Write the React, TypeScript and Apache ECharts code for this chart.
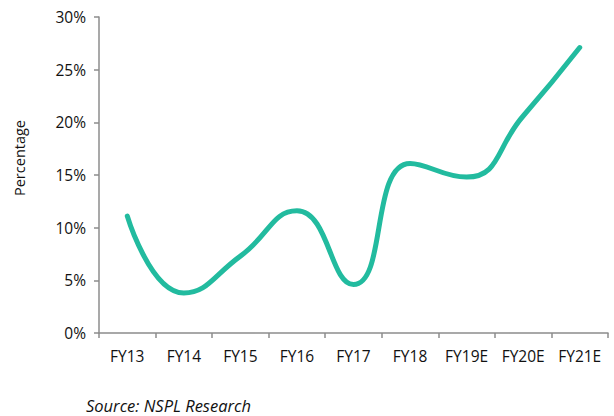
import React, { useEffect, useRef } from "react";
import * as echarts from "echarts";

const categories = ["FY13", "FY14", "FY15", "FY16", "FY17", "FY18", "FY19E", "FY20E", "FY21E"];
const values = [11.1, 3.8, 7.3, 11.6, 4.6, 16.1, 14.8, 20.6, 27.1];
const yTicks = { min: 0, max: 30, interval: 5 };

export default function App() {
  const ref = useRef<HTMLDivElement>(null);
  useEffect(() => {
    if (!ref.current) return;
    const chart = echarts.init(ref.current, undefined, { renderer: "svg" });
    const font = "'Open Sans', 'Liberation Sans', sans-serif";
    chart.setOption({
      animation: false,
      backgroundColor: "#ffffff",
      grid: { left: 99, right: 6, top: 17, bottom: 83 },
      xAxis: {
        type: "category",
        data: categories,
        boundaryGap: true,
        axisLine: { lineStyle: { color: "#8c8c8c", width: 1.5 } },
        axisTick: { show: true, length: 5, lineStyle: { color: "#8c8c8c", width: 1.5 } },
        axisLabel: { color: "#111", fontSize: 15.5, fontFamily: font, margin: 15, interval: 0 },
      },
      yAxis: {
        type: "value",
        min: yTicks.min,
        max: yTicks.max,
        interval: yTicks.interval,
        axisLine: { show: true, lineStyle: { color: "#8c8c8c", width: 1.5 } },
        axisTick: { show: true, length: 5, lineStyle: { color: "#8c8c8c", width: 1.5 } },
        splitLine: { show: false },
        axisLabel: { color: "#111", fontSize: 15.5, fontFamily: font, margin: 13, formatter: "{value}%" },
      },
      series: [
        {
          type: "line",
          data: values,
          smooth: 0.5,
          symbol: "none",
          lineStyle: { color: "#22bb9f", width: 5, cap: "round" },
        },
      ],
      graphic: [
        {
          type: "text",
          x: 19,
          y: 158,
          rotation: Math.PI / 2,
          style: {
            text: "Percentage",
            fill: "#111",
            fontSize: 14.5,
            fontFamily: font,
            textAlign: "center",
            textVerticalAlign: "middle",
          },
        },
        {
          type: "text",
          x: 86,
          y: 405,
          style: {
            text: "Source: NSPL Research",
            fill: "#111",
            fontSize: 16.5,
            fontStyle: "italic",
            fontFamily: font,
            textAlign: "left",
            textVerticalAlign: "middle",
          },
        },
      ],
    });
    return () => chart.dispose();
  }, []);
  return (
    <div
      ref={ref}
      style={{ position: "fixed", left: 0, top: 0, width: 614, height: 416 }}
    />
  );
}
